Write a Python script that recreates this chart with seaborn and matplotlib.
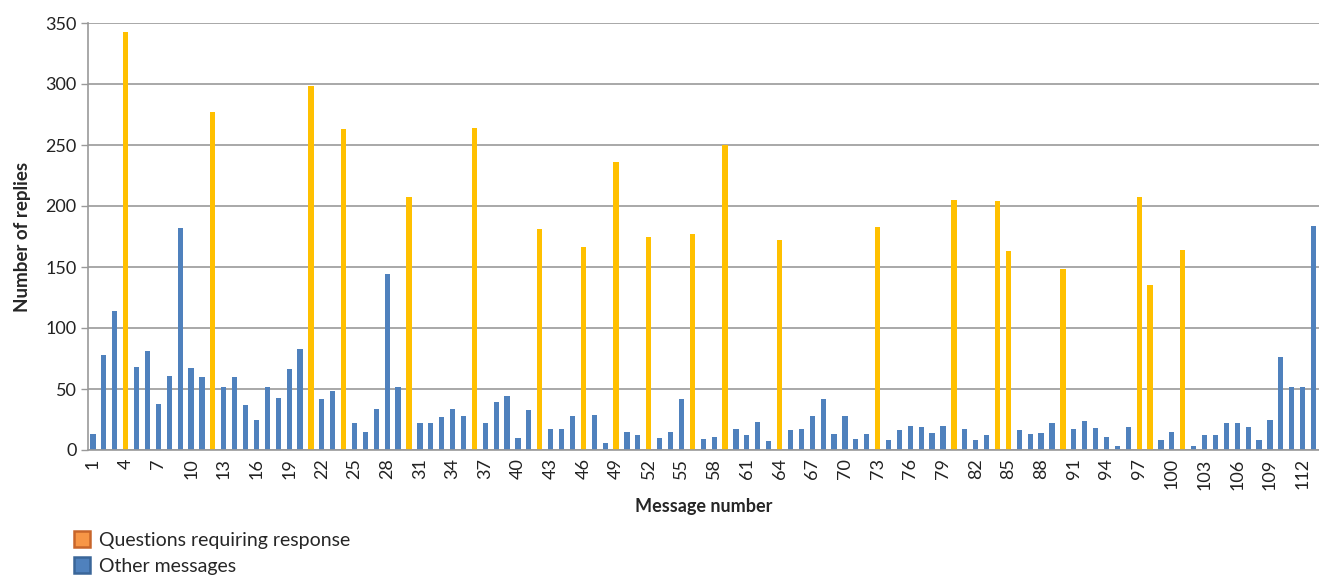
import matplotlib
matplotlib.use("Agg")
import matplotlib.pyplot as plt
from matplotlib.lines import Line2D
import seaborn as sns
import pandas as pd

message_numbers = list(range(1, 114))
replies = [
    13, 78, 114, 343, 68, 81, 38, 61, 182, 67,
    60, 277, 52, 60, 37, 25, 52, 43, 66, 83,
    298, 42, 48, 263, 22, 15, 34, 144, 52, 207,
    22, 22, 27, 34, 28, 264, 22, 39, 44, 10,
    33, 181, 17, 17, 28, 166, 29, 6, 236, 15,
    12, 175, 10, 15, 42, 177, 9, 11, 250, 17,
    12, 23, 7, 172, 16, 17, 28, 42, 13, 28,
    9, 13, 183, 8, 16, 20, 19, 14, 20, 205,
    17, 8, 12, 204, 163, 16, 13, 14, 22, 148,
    17, 24, 18, 11, 3, 19, 207, 135, 8, 15,
    164, 3, 12, 12, 22, 22, 19, 8, 25, 76,
    52, 52, 184,
]
question_ids = [4, 12, 21, 24, 30, 36, 42, 46, 49, 52, 56, 59, 64, 73, 80,
                84, 85, 90, 97, 98, 101]
series_names = ["Questions requiring response", "Other messages"]
y_ticks = [0, 50, 100, 150, 200, 250, 300, 350]

df = pd.DataFrame({
    "message": message_numbers,
    "replies": replies,
    "kind": [series_names[0] if m in question_ids else series_names[1]
             for m in message_numbers],
})

sns.set_style("white")
plt.rcParams["font.family"] = ["Lato", "DejaVu Sans"]

fig = plt.figure(figsize=(13.19, 5.78), dpi=100)
left = 87.5 / 1319
ax = fig.add_axes([left, 1 - 450 / 578, 1 - left, (450 - 23) / 578])

sns.barplot(data=df, x="message", y="replies", hue="kind",
            hue_order=series_names,
            palette={series_names[0]: "#FFC000", series_names[1]: "#4F81BD"},
            saturation=1, dodge=False, width=0.48, legend=False, ax=ax,
            order=message_numbers, linewidth=0)

ax.set_xlim(-0.5, 111.98)
ax.set_ylim(0, 350)
ax.set_yticks(y_ticks)
ax.set_yticklabels([str(v) for v in y_ticks], fontsize=13, color="#222222")
ax.yaxis.grid(True, color="#999999", linewidth=1.2)
ax.set_axisbelow(True)

pos = list(range(0, len(message_numbers), 3))
ax.set_xticks(pos)
ax.set_xticklabels([str(message_numbers[p]) for p in pos], rotation=90,
                   fontsize=13, color="#222222")
ax.set_xticks([i - 0.5 for i in range(len(message_numbers) + 1)], minor=True)
ax.tick_params(axis="x", which="major", length=0, pad=6)
ax.tick_params(axis="x", which="minor", length=5, color="#999999", width=1)
ax.tick_params(axis="y", which="major", length=5, color="#999999", width=1,
               left=True, pad=3)

for s in ["top", "right"]:
    ax.spines[s].set_visible(False)
for s in ["left", "bottom"]:
    ax.spines[s].set_color("#999999")
    ax.spines[s].set_linewidth(1.2)

ax.set_xlabel("Message number", fontsize=13, fontweight="bold", labelpad=6)
ax.set_ylabel("Number of replies", fontsize=13.5, fontweight="bold", labelpad=10)

handles = [
    Line2D([], [], marker="s", linestyle="none", markersize=11,
           markerfacecolor="#F79646", markeredgecolor="#C8652A", markeredgewidth=1.8),
    Line2D([], [], marker="s", linestyle="none", markersize=11,
           markerfacecolor="#4F81BD", markeredgecolor="#3A6699", markeredgewidth=1.8),
]
fig.legend(handles, series_names, loc="upper left",
           bbox_to_anchor=(70 / 1319, 1 - 532 / 578), frameon=False,
           fontsize=14, handletextpad=0.3, labelspacing=0.45,
           handlelength=1.2, borderaxespad=0, borderpad=0)

fig.savefig("out.png", dpi=100)
